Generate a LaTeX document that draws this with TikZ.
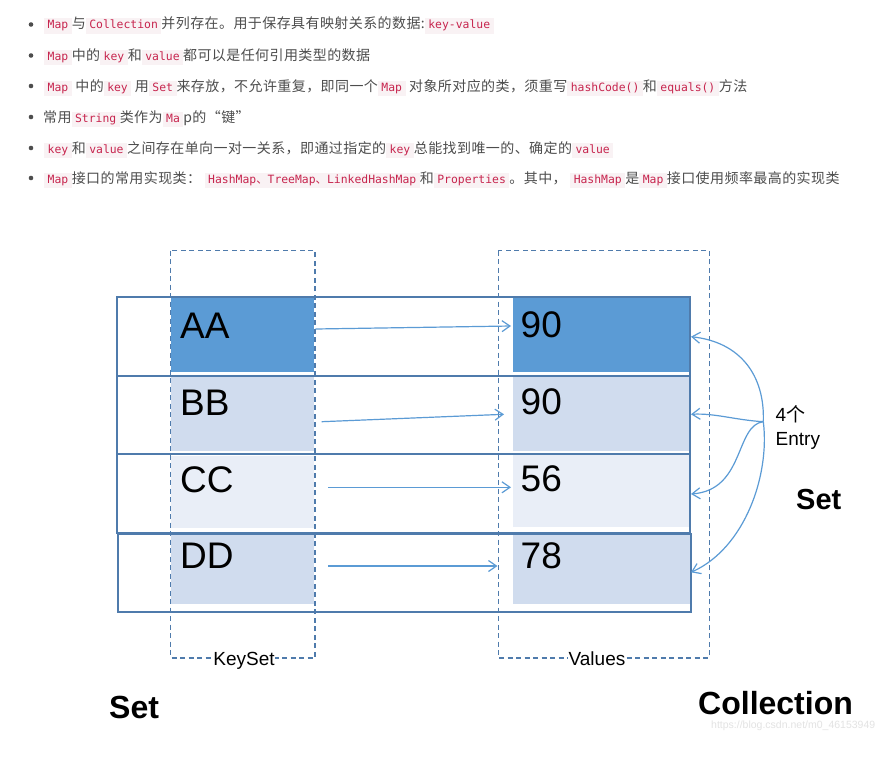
\documentclass[tikz,border=0pt]{standalone}
\usepackage{fontspec}
\setmainfont{Liberation Sans}
\newfontfamily\cjk{Noto Sans CJK SC}
\newfontfamily\cjkbody[LetterSpace=3]{Noto Sans CJK SC}
\newfontfamily\mono{DejaVu Sans Mono}
\usetikzlibrary{arrows.meta}
\definecolor{chipbg}{HTML}{F9F2F4}
\definecolor{chiptx}{HTML}{C7254E}
\definecolor{bodytx}{HTML}{4D4D4D}
\definecolor{darkfill}{HTML}{5B9BD5}
\definecolor{lightfill}{HTML}{D0DCEE}
\definecolor{lighterfill}{HTML}{E9EEF7}
\definecolor{framec}{HTML}{4F7BAC}
\definecolor{arrowc}{HTML}{5B9BD5}
\newcommand\ck[1]{{\setlength{\fboxsep}{0pt}\colorbox{chipbg}{\hspace{3.5pt}\rule[-5pt]{0pt}{15.5pt}{\mono\fontsize{11.4}{14}\selectfont\color{chiptx}#1}\hspace{3.5pt}}}}
\tikzset{
  bodyline/.style={anchor=base west, inner sep=0, text=bodytx, font=\cjkbody\fontsize{14}{16}\selectfont},
  bulletdot/.style={circle, fill=bodytx, inner sep=0, minimum size=4.6pt},
  cellbox/.style={anchor=north west, inner sep=0, draw=none},
  celltext/.style={anchor=base west, inner sep=0, font=\fontsize{37}{40}\selectfont},
  rowline/.style={draw=framec, line width=1.7pt},
  dashbox/.style={draw=framec, line width=1.5pt, dash pattern=on 5pt off 3.5pt},
  arr/.style={draw=arrowc, line width=1.2pt, -{Straight Barb[length=8pt,width=11pt]}},
  boxlabel/.style={anchor=base, fill=white, inner sep=0.5pt, font=\fontsize{19}{21}\selectfont},
  biglabel/.style={anchor=base west, inner sep=0, font=\bfseries\fontsize{32}{36}\selectfont},
}
\begin{document}
\begin{tikzpicture}[x=1pt, y=-1pt]
\useasboundingbox (0,0) rectangle (890,760);
\fill[white] (0,0) rectangle (890,760);

% ---- bullet list ----
\node[bulletdot] (b1) at (31,24.5) {};
\node[bulletdot] (b2) at (31,55.5) {};
\node[bulletdot] (b3) at (31,86) {};
\node[bulletdot] (b4) at (31,117) {};
\node[bulletdot] (b5) at (31,148) {};
\node[bulletdot] (b6) at (31,178) {};
\node[bodyline] (l1) at (44,29) {\ck{Map}与\ck{Collection}并列存在。用于保存具有映射关系的数据:\ck{key-value}};
\node[bodyline] (l2) at (44,60) {\ck{Map}中的\ck{key}和\ck{value}都可以是任何引用类型的数据};
\node[bodyline] (l3) at (44,91) {\ck{Map}\ 中的\ck{key}\ 用\ck{Set}来存放，不允许重复，即同一个\ck{Map}\ 对象所对应的类，须重写\ck{hashCode()}和\ck{equals()}方法};
\node[bodyline] (l4) at (43,122) {常用\ck{String}类作为\ck{Ma}p的“键”};
\node[bodyline] (l5) at (44,153) {\ck{key}和\ck{value}之间存在单向一对一关系，即通过指定的\ck{key}总能找到唯一的、确定的\ck{value}};
\node[bodyline] (l6) at (44,183) {\ck{Map}接口的常用实现类：\ \ck{HashMap{\cjk 、}TreeMap{\cjk 、}LinkedHashMap}和\ck{Properties}。其中，\ \ck{HashMap}是\ck{Map}接口使用频率最高的实现类};

% ---- cells ----
\node[cellbox, fill=darkfill, minimum width=143pt, minimum height=75pt] (kA) at (171,296.7) {};
\node[cellbox, fill=lightfill, minimum width=143pt, minimum height=75pt] (kB) at (171,376) {};
\node[cellbox, fill=lighterfill, minimum width=143pt, minimum height=72pt] (kC) at (171,456) {};
\node[cellbox, fill=lightfill, minimum width=143pt, minimum height=70pt] (kD) at (171,534) {};
\node[cellbox, fill=darkfill, minimum width=177pt, minimum height=75pt] (vA) at (512.5,296.7) {};
\node[cellbox, fill=lightfill, minimum width=177pt, minimum height=75pt] (vB) at (512.5,376) {};
\node[cellbox, fill=lighterfill, minimum width=177pt, minimum height=72pt] (vC) at (512.5,455) {};
\node[cellbox, fill=lightfill, minimum width=177pt, minimum height=70pt] (vD) at (512.5,534) {};

% ---- row outlines ----
\draw[rowline] (117,296.7) rectangle (690,375.7);
\draw[rowline] (117,375.7) rectangle (690,454.3);
\draw[rowline] (117,454.3) rectangle (690,532.7);
\draw[rowline] (118,534) rectangle (691,611.7);

% ---- cell texts ----
\node[celltext] (tA) at (180,338) {AA};
\node[celltext] (tB) at (180,415) {BB};
\node[celltext] (tC) at (180,492) {CC};
\node[celltext] (tD) at (180,568) {DD};
\node[celltext] (tvA) at (520.5,337) {90};
\node[celltext] (tvB) at (520.5,414) {90};
\node[celltext] (tvC) at (520.5,491) {56};
\node[celltext] (tvD) at (520.5,568) {78};

% ---- dashed groups ----
\draw[dashbox] (170.7,250.7) rectangle (315,657.8);
\draw[dashbox] (498.3,250.7) rectangle (709.3,657.8);
\node[boxlabel] (keyset) at (244,665) {KeySet};
\node[boxlabel] (values) at (597,665) {Values};

% ---- key -> value arrows ----
\coordinate (sA) at (315.5,329);
\coordinate (eA) at (511,326);
\coordinate (sB) at (321.7,421.7);
\coordinate (eB) at (504,414.3);
\coordinate (sC) at (328.3,487.3);
\coordinate (eC) at (511,487.3);
\coordinate (sD) at (328.3,566);
\coordinate (eD) at (497.5,566);
\draw[arr] (sA) -- (eA);
\draw[arr] (sB) -- (eB);
\draw[arr] (sC) -- (eC);
\draw[arr] (sD) -- (eD);

% ---- entry arrows ----
\coordinate (hub) at (763.3,421.7);
\coordinate (r1) at (691,336.7);
\coordinate (r2) at (691,414.3);
\coordinate (r3) at (691,494);
\coordinate (r4) at (691,572.3);
\draw[arr] (hub) .. controls (765,375) and (740,342) .. (r1);
\draw[arr] (hub) .. controls (735,420) and (715,413) .. (r2);
\draw[arr] (hub) .. controls (735,425) and (745,490) .. (r3);
\draw[arr] (hub) .. controls (770,475) and (745,548) .. (r4);

\node[anchor=base west, inner sep=0, font=\fontsize{19}{22}\selectfont] (e1) at (775.5,421) {4{\cjk 个}};
\node[anchor=base west, inner sep=0, font=\fontsize{19}{22}\selectfont] (e2) at (775.5,445) {Entry};

% ---- big labels ----
\node[biglabel, font=\bfseries\fontsize{29}{32}\selectfont] (setR) at (796,509) {Set};
\node[biglabel] (setL) at (109,718) {Set};
\node[biglabel] (coll) at (698,714) {Collection};
\node[anchor=base west, inner sep=0, text=gray!22, font=\fontsize{10.5}{12}\selectfont] (wm) at (711,728) {https://blog.csdn.net/m0\_46153949};
\end{tikzpicture}
\end{document}
